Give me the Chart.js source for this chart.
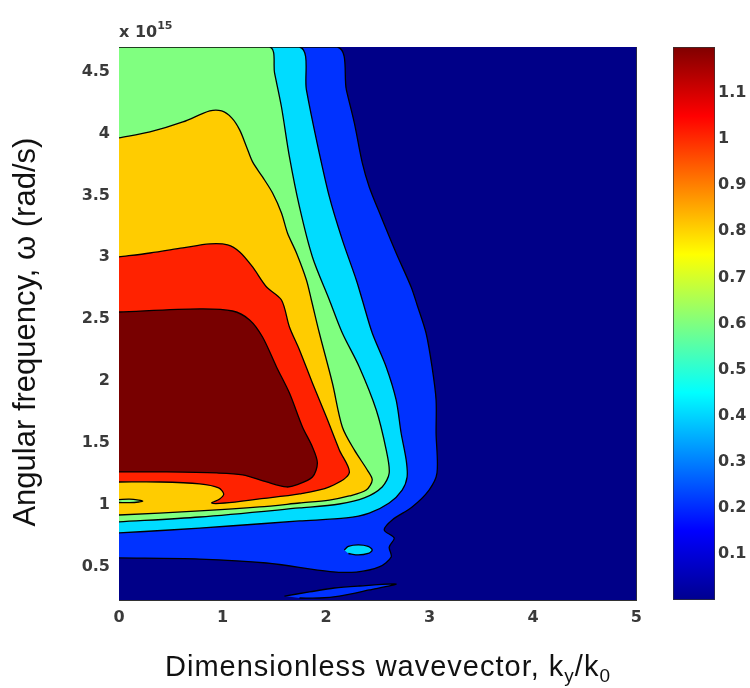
<!DOCTYPE html>
<html>
<head>
<meta charset="utf-8">
<script src="https://cdn.jsdelivr.net/npm/chart.js@4.4.1/dist/chart.umd.min.js"></script>
<style>
  html, body { margin: 0; padding: 0; background: #fff; }
  #wrap { position: relative; width: 750px; height: 688px; }
  #plot { position: absolute; left: 0; top: 0; }
  #cbar { position: absolute; left: 640px; top: 0; }
</style>
</head>
<body>
<div id="wrap">
  <canvas id="plot" width="650" height="688"></canvas>
  <canvas id="cbar" width="110" height="688"></canvas>
</div>
<script>
// axes (omega in units of 10^15 rad/s)
const xRange = [0, 5];
const yRange = [0.23, 4.7];
const xTicks = [0, 1, 2, 3, 4, 5];
const yTicks = [0.5, 1, 1.5, 2, 2.5, 3, 3.5, 4, 4.5];
const cbarRange = [0, 1.2];
const cbarTicks = [0.1, 0.2, 0.3, 0.4, 0.5, 0.6, 0.7, 0.8, 0.9, 1, 1.1];

// contour regions, [ky/k0, omega]
const level0 = [[0, 0.23], [5, 0.23], [5, 4.7], [0, 4.7]];
const level1 = [[0, 4.70], [2.11, 4.70], [2.197, 4.353], [2.274, 4.086], [2.351, 3.763], [2.418, 3.569],
  [2.534, 3.326], [2.678, 3.035], [2.823, 2.760], [2.881, 2.615], [2.967, 2.388], [3.025, 2.114],
  [3.064, 1.847], [3.064, 1.580], [3.073, 1.257], [2.996, 1.119], [2.832, 0.982], [2.640, 0.877],
  [2.563, 0.796], [2.659, 0.731], [2.611, 0.658], [2.630, 0.578], [2.514, 0.497], [2.293, 0.456],
  [2.04, 0.46], [1.426, 0.529], [0.780, 0.561], [0, 0.570]];
const level1Sliver = [[1.599, 0.262], [1.840, 0.295], [2.081, 0.327], [2.322, 0.343], [2.678, 0.359],
  [2.418, 0.311], [2.129, 0.262], [1.936, 0.246], [1.744, 0.246]];
const level2 = [[0, 4.70], [1.744, 4.70], [1.811, 4.353], [1.908, 3.949], [2.033, 3.488], [2.158, 3.141],
  [2.293, 2.817], [2.351, 2.655], [2.447, 2.388], [2.582, 2.114], [2.678, 1.847], [2.726, 1.580],
  [2.775, 1.362], [2.784, 1.224], [2.736, 1.119], [2.611, 1.014], [2.418, 0.933], [2.197, 0.893],
  [1.744, 0.869], [1.069, 0.828], [0.491, 0.796], [0, 0.772]];
const level2Blob = [[2.177, 0.634], [2.216, 0.663], [2.312, 0.675], [2.408, 0.663], [2.447, 0.634],
  [2.408, 0.606], [2.312, 0.594], [2.216, 0.606]];
const level3 = [[0, 4.70], [1.455, 4.70], [1.503, 4.490], [1.570, 4.215], [1.647, 3.811], [1.744, 3.407],
  [1.869, 3.003], [2.033, 2.655], [2.158, 2.388], [2.322, 2.114], [2.486, 1.766], [2.582, 1.443],
  [2.611, 1.257], [2.543, 1.144], [2.370, 1.055], [2.129, 1.006], [1.744, 0.974], [0.780, 0.901],
  [0, 0.861]];
const level4 = [[0, 3.965], [0.299, 4.013], [0.617, 4.094], [0.877, 4.183], [0.992, 4.183], [1.089, 4.127],
  [1.166, 4.030], [1.233, 3.892], [1.291, 3.771], [1.387, 3.650], [1.484, 3.520], [1.570, 3.359],
  [1.628, 3.197], [1.715, 3.035], [1.811, 2.817], [1.859, 2.655], [1.936, 2.388], [2.062, 1.984],
  [2.158, 1.629], [2.274, 1.443], [2.399, 1.281], [2.447, 1.200], [2.389, 1.119], [2.225, 1.071],
  [2.033, 1.038], [1.744, 1.014], [1.358, 0.982], [0.780, 0.950], [0, 0.917]];
const level3Spot = [[0, 1.042], [0.10, 1.045], [0.19, 1.038], [0.23, 1.030], [0.19, 1.022], [0.10, 1.017],
  [0, 1.018]];
const level5 = [[0, 3.003], [0.299, 3.035], [0.617, 3.076], [0.877, 3.108], [1.050, 3.100], [1.166, 3.043],
  [1.291, 2.922], [1.426, 2.760], [1.570, 2.655], [1.647, 2.437], [1.744, 2.251], [1.869, 1.984],
  [2.004, 1.709], [2.129, 1.443], [2.225, 1.257], [2.033, 1.144], [1.744, 1.087], [1.358, 1.047],
  [1.021, 1.014], [0.896, 1.014], [0.973, 1.047], [1.012, 1.087], [0.963, 1.136], [0.780, 1.168],
  [0.395, 1.184], [0, 1.184]];
const level6 = [[0, 2.558], [0.780, 2.583], [1.098, 2.566], [1.262, 2.494], [1.387, 2.356], [1.522, 2.114],
  [1.647, 1.903], [1.773, 1.629], [1.869, 1.467], [1.917, 1.338], [1.869, 1.224], [1.715, 1.160],
  [1.618, 1.144], [1.426, 1.184], [1.195, 1.241], [0.944, 1.257], [0.462, 1.265], [0, 1.265]];

// drawing order, and the contour band each region belongs to
const regions = [level0, level1, level1Sliver, level2, level2Blob, level3, level4, level3Spot, level5, level6];
const regionBand = [0, 1, 1, 2, 2, 3, 4, 3, 5, 6];

const bandColors = ["#000088", "#0032ff", "#00dcff", "#80ff80", "#ffcc00", "#ff2200", "#780000"];
const tickFont = { family: "DejaVu Sans", size: 16, weight: "bold" };
const tickColor = "#3a3a3a";
const frameColor = "#333333";

const datasets = regions.map((pts, i) => ({
  data: pts.map((p) => ({ x: p[0], y: p[1] })),
  fill: "shape",
  backgroundColor: bandColors[regionBand[i]],
  borderColor: i === 0 ? "rgba(0,0,0,0)" : "#000000",
  borderWidth: i === 0 ? 0 : 1.3,
  pointRadius: 0,
  tension: i === 0 ? 0 : 0.3,
  order: regions.length - i,
}));

// draws a run of text pieces, some lowered (subscript) or raised (superscript)
function drawRich(ctx, parts, x, base, align) {
  let width = 0;
  parts.forEach((p) => {
    ctx.font = p.font;
    width += ctx.measureText(p.text).width;
  });
  if (align === "center") x -= width / 2;
  parts.forEach((p) => {
    ctx.font = p.font;
    ctx.fillText(p.text, x, base + (p.shift || 0));
    x += ctx.measureText(p.text).width;
  });
}

const labelPlugin = {
  id: "richLabels",
  afterDraw(chart) {
    const ctx = chart.ctx;
    const area = chart.chartArea;
    ctx.save();
    ctx.textBaseline = "alphabetic";
    ctx.textAlign = "left";
    // exponent above the y axis
    ctx.fillStyle = tickColor;
    drawRich(ctx, [
      { text: "x 10", font: "bold 16px 'DejaVu Sans'" },
      { text: "15", font: "bold 11px 'DejaVu Sans'", shift: -8 },
    ], area.left, 37, "left");
    // x axis label with subscripts
    ctx.fillStyle = "#111111";
    ctx.letterSpacing = "1px";
    drawRich(ctx, [
      { text: "Dimensionless wavevector, k", font: "29px 'Liberation Sans'" },
      { text: "y", font: "19px 'Liberation Sans'", shift: 6 },
      { text: "/k", font: "29px 'Liberation Sans'" },
      { text: "0", font: "19px 'Liberation Sans'", shift: 6 },
    ], 388, 676, "center");
    ctx.restore();
  },
};

new Chart(document.getElementById("plot"), {
  type: "line",
  data: { datasets: datasets },
  plugins: [labelPlugin],
  options: {
    responsive: false,
    animation: false,
    devicePixelRatio: 1,
    layout: { padding: { left: 0, right: 12, top: 0, bottom: 0 } },
    plugins: { legend: { display: false }, tooltip: { enabled: false } },
    scales: {
      x: {
        type: "linear",
        position: "bottom",
        min: xRange[0],
        max: xRange[1],
        z: 1,
        afterBuildTicks: (s) => { s.ticks = xTicks.map((v) => ({ value: v })); },
        afterFit: (s) => { s.height = 88; },
        ticks: { font: tickFont, color: tickColor, padding: 8, maxRotation: 0, callback: (v) => String(v) },
        grid: { color: "#000000", drawTicks: false, lineWidth: 1 },
        border: { color: frameColor, dash: [5, 543] },
      },
      y: {
        type: "linear",
        position: "left",
        min: yRange[0],
        max: yRange[1],
        z: 1,
        afterBuildTicks: (s) => { s.ticks = yTicks.map((v) => ({ value: v })); },
        afterFit: (s) => { s.width = 119; },
        ticks: { font: tickFont, color: tickColor, padding: 9, callback: (v) => String(v) },
        grid: { color: "#000000", drawTicks: false, lineWidth: 1 },
        border: { color: frameColor, dash: [5, 509] },
        title: {
          display: true,
          text: "Angular frequency, \u03c9 (rad/s)  ",
          font: { family: "Liberation Sans", size: 31 },
          color: "#111111",
          padding: { top: 8, bottom: 0 },
        },
      },
      xTop: {
        type: "linear",
        position: "top",
        min: xRange[0],
        max: xRange[1],
        afterFit: (s) => { s.height = 47; },
        ticks: { display: false },
        grid: { display: false },
        border: { color: frameColor },
      },
      yRight: {
        type: "linear",
        position: "right",
        min: yRange[0],
        max: yRange[1],
        afterFit: (s) => { s.width = 0; },
        ticks: { display: false },
        grid: { display: false },
        border: { color: frameColor },
      },
    },
  },
});

// colour bar: one floating bar over the whole range, painted with the jet map
function jetGradient(c) {
  const area = c.chart.chartArea;
  if (!area) return bandColors[0];
  const g = c.chart.ctx.createLinearGradient(0, area.bottom, 0, area.top);
  g.addColorStop(0, "#00008f");
  g.addColorStop(0.125, "#0000ff");
  g.addColorStop(0.375, "#00ffff");
  g.addColorStop(0.625, "#ffff00");
  g.addColorStop(0.875, "#ff0000");
  g.addColorStop(1, "#800000");
  return g;
}

new Chart(document.getElementById("cbar"), {
  type: "bar",
  data: {
    labels: [""],
    datasets: [{
      data: [cbarRange],
      backgroundColor: jetGradient,
      borderColor: frameColor,
      borderWidth: 1,
      borderSkipped: false,
      barPercentage: 1,
      categoryPercentage: 1,
    }],
  },
  options: {
    responsive: false,
    animation: false,
    devicePixelRatio: 1,
    layout: { padding: { left: 33, right: 0, top: 47, bottom: 88 } },
    plugins: { legend: { display: false }, tooltip: { enabled: false } },
    scales: {
      x: { display: false },
      y: {
        position: "right",
        min: cbarRange[0],
        max: cbarRange[1],
        z: 1,
        afterBuildTicks: (s) => { s.ticks = cbarTicks.map((v) => ({ value: v })); },
        afterFit: (s) => { s.width = 35; },
        ticks: { font: tickFont, color: tickColor, padding: 3, callback: (v) => String(+v.toFixed(1)) },
        grid: { color: "#000000", drawTicks: false, lineWidth: 1 },
        border: { display: false, dash: [5, 32] },
      },
    },
  },
});
</script>
</body>
</html>
